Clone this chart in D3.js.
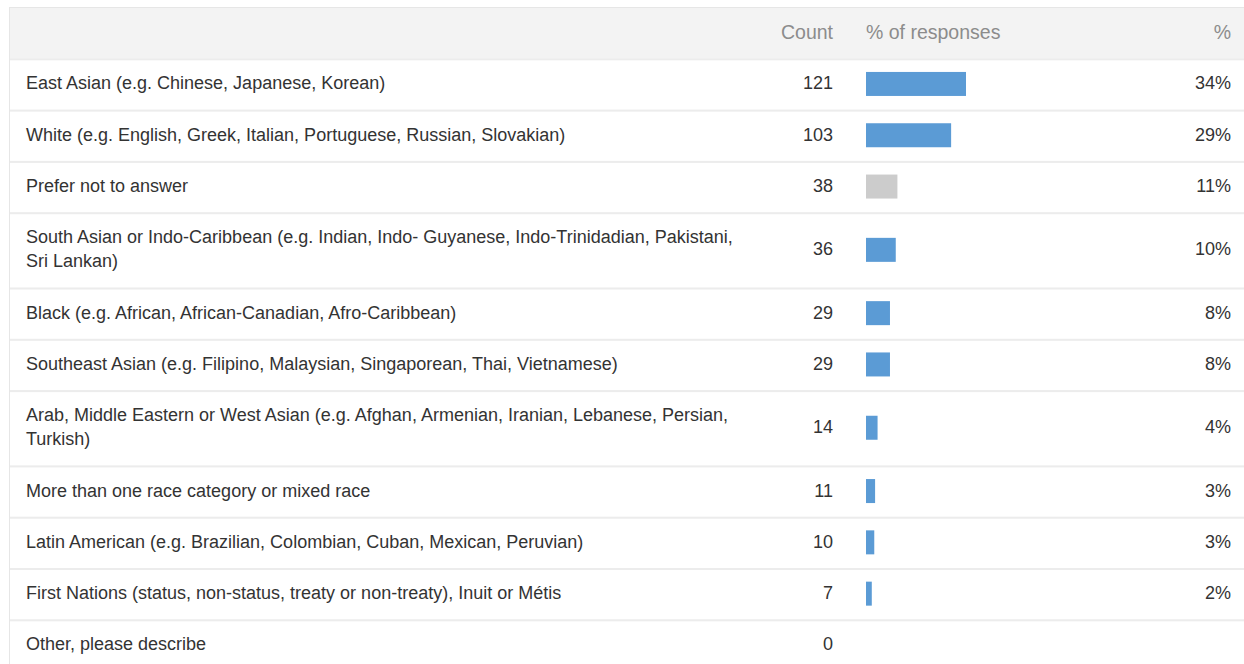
<!DOCTYPE html>
<html><head><meta charset="utf-8">
<script src="https://cdn.jsdelivr.net/npm/d3@7"></script>
<style>
html,body{margin:0;padding:0;background:#fff;}
svg text{font-family:"Liberation Sans",Arial,sans-serif;}
</style></head>
<body><svg id="c" width="1244" height="664"></svg>
<script>
const categories = [
  "East Asian (e.g. Chinese, Japanese, Korean)",
  "White (e.g. English, Greek, Italian, Portuguese, Russian, Slovakian)",
  "Prefer not to answer",
  "South Asian or Indo-Caribbean (e.g. Indian, Indo- Guyanese, Indo-Trinidadian, Pakistani, Sri Lankan)",
  "Black (e.g. African, African-Canadian, Afro-Caribbean)",
  "Southeast Asian (e.g. Filipino, Malaysian, Singaporean, Thai, Vietnamese)",
  "Arab, Middle Eastern or West Asian (e.g. Afghan, Armenian, Iranian, Lebanese, Persian, Turkish)",
  "More than one race category or mixed race",
  "Latin American (e.g. Brazilian, Colombian, Cuban, Mexican, Peruvian)",
  "First Nations (status, non-status, treaty or non-treaty), Inuit or Métis",
  "Other, please describe"
];
const counts = [121, 103, 38, 36, 29, 29, 14, 11, 10, 7, 0];
const percents = [34, 29, 11, 10, 8, 8, 4, 3, 3, 2, null];
const greyCategories = ["Prefer not to answer"];
const headers = ["", "Count", "% of responses", "%"];

(function () {
const svg = d3.select("#c");
const left = 9, right = 1244, top0 = 7, headerH = 51.3;
const textX = 26, countX = 833, barX = 866, pctX = 1231, wrapW = 715;
const fs = 18, hfs = 19.5;
const x = d3.scaleLinear().domain([0, d3.max(counts)]).range([0, 100]);

const measure = svg.append("text").attr("font-size", fs).attr("visibility", "hidden");
function wrap(str) {
  const words = str.split(" "); const lines = []; let cur = "";
  for (const w of words) {
    const t = cur ? cur + " " + w : w;
    measure.text(t);
    if (measure.node().getComputedTextLength() > wrapW && cur) { lines.push(cur); cur = w; }
    else cur = t;
  }
  lines.push(cur); return lines;
}
const rows = categories.map((c, i) => ({ label: c, lines: wrap(c), count: counts[i], pct: percents[i] }));
measure.remove();
let y = top0 + headerH;
rows.forEach(r => { r.y = y; r.h = 27.3 + 24 * r.lines.length; y += r.h; });

svg.append("rect").attr("x", left).attr("y", top0).attr("width", right - left).attr("height", headerH)
  .attr("fill", "#f3f3f3");
svg.append("line").attr("x1", left).attr("x2", right).attr("y1", top0 + 0.5).attr("y2", top0 + 0.5)
  .attr("stroke", "#e6e6e6");
const hy = top0 + headerH / 2 + 6;
svg.append("text").attr("x", countX).attr("y", hy).attr("text-anchor", "end").attr("font-size", hfs)
  .attr("fill", "#8c8c8c").text(headers[1]);
svg.append("text").attr("x", barX).attr("y", hy).attr("font-size", hfs).attr("fill", "#8c8c8c").text(headers[2]);
svg.append("text").attr("x", pctX).attr("y", hy).attr("text-anchor", "end").attr("font-size", hfs)
  .attr("fill", "#8c8c8c").text(headers[3]);

svg.append("line").attr("x1", left + 0.5).attr("x2", left + 0.5).attr("y1", top0).attr("y2", 664)
  .attr("stroke", "#e6e6e6");

const g = svg.selectAll("g.row").data(rows).join("g").attr("class", "row")
  .attr("transform", d => `translate(0,${d.y})`);
g.append("rect").attr("x", left + 1).attr("y", 0).attr("width", right - left).attr("height", 2)
  .attr("fill", "#ececec");
g.each(function (d) {
  const gg = d3.select(this);
  const cy = d.h / 2;
  const n = d.lines.length;
  d.lines.forEach((ln, k) => {
    gg.append("text").attr("x", textX).attr("y", cy + (k - (n - 1) / 2) * 24 + 5.5)
      .attr("font-size", fs).attr("fill", "#333").text(ln);
  });
  gg.append("text").attr("x", countX).attr("y", cy + 5.5).attr("text-anchor", "end")
    .attr("font-size", fs).attr("fill", "#333").text(d.count);
  if (d.count > 0) {
    gg.append("rect").attr("x", barX).attr("y", cy - 12).attr("width", x(d.count)).attr("height", 24)
      .attr("fill", greyCategories.includes(d.label) ? "#cccccc" : "#5b9bd5");
  }
  if (d.pct != null) {
    gg.append("text").attr("x", pctX).attr("y", cy + 5.5).attr("text-anchor", "end")
      .attr("font-size", fs).attr("fill", "#333").text(d.pct + "%");
  }
});
})();
</script></body></html>
